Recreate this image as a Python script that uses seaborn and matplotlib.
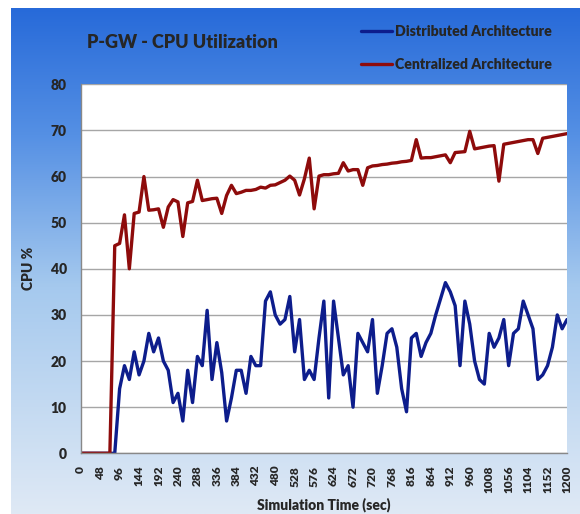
#! /usr/bin/env python3
'''
P-GW CPU utilization, distributed vs centralized architecture
'''
# imports
import matplotlib
matplotlib.use("Agg")
from matplotlib import rcParams
from matplotlib.colors import LinearSegmentedColormap
import matplotlib.pyplot as plt
import numpy as np
import pandas as pd
import seaborn as sns

# data (one sample every 12 sec, 0..1200)
time_sec = list(range(0, 1201, 12))
distributed = [0, 0, 0, 0, 0, 0, 0, 0,
               14, 19, 16, 22, 17, 20, 26, 22, 25, 20, 18, 11, 13,
               7, 18, 11, 21, 19, 31, 16, 24, 17.5, 7, 12, 18, 18, 13, 21, 19, 19, 33, 35, 30,
               28, 29, 34, 22, 29, 16, 18, 16, 25, 33, 12, 33, 25, 17, 19, 10, 26, 24, 22, 29,
               13, 19, 26, 27, 23, 14, 9, 25, 26, 21, 24, 26, 30, 33.5, 37, 35, 32, 19, 33, 28,
               20, 16, 15, 26, 23, 25, 29, 19, 26, 27, 33, 30, 27, 16, 17, 19, 23, 30, 27, 29]
centralized = [0, 0, 0, 0, 0, 0, 0,
               45, 45.5, 51.7, 40, 52, 52.3, 60, 52.7, 52.8, 53, 49, 53.4, 55, 54.5,
               47, 54.3, 54.6, 59.2, 54.8, 55, 55.2, 55.3, 52, 55.9, 58.1, 56.3, 56.6, 57, 57,
               57.2, 57.7, 57.5, 58.1, 58.2,
               58.7, 59.2, 60.1, 59.2, 56, 59.5, 64, 53, 60.1, 60.4, 60.4, 60.6, 60.7, 63, 61.2,
               61.5, 61.5, 58.1, 61.9, 62.3,
               62.4, 62.6, 62.7, 62.9, 63, 63.2, 63.3, 63.5, 68, 64, 64.1, 64.1, 64.3, 64.5, 64.7,
               63, 65.2, 65.3, 65.4, 69.8,
               66, 66.2, 66.4, 66.6, 66.7, 59, 67, 67.2, 67.4, 67.6, 67.8, 68, 68, 65, 68.3,
               68.5, 68.7, 68.9, 69.1, 69.3]
series_names = ["Distributed Architecture", "Centralized Architecture"]
x_ticks = list(range(0, 1201, 48))
y_ticks = list(range(0, 81, 10))

df = pd.DataFrame({
    "time": time_sec * 2,
    "cpu": distributed + centralized,
    "arch": [series_names[0]] * len(time_sec) + [series_names[1]] * len(time_sec),
})

# settings
sns.set_style("white")
rcParams['font.family'] = ['Lato', 'DejaVu Sans']
rcParams['font.weight'] = 'bold'

fig = plt.figure(figsize=(5.8, 5.14), dpi=100)
fig.patch.set_facecolor("white")

# blue gradient chart background
bg = fig.add_axes([11 / 580, 0, 1 - 11 / 580, 1 - 8 / 514], zorder=-5)
grad_cmap = LinearSegmentedColormap.from_list(
    "bg", [(0.0, "#276ad9"), (0.25, "#5590e4"), (0.55, "#a5c9ee"), (1.0, "#dfe9f5")])
bg.imshow(np.linspace(0, 1, 256).reshape(-1, 1), aspect="auto", cmap=grad_cmap,
          extent=[0, 1, 0, 1], origin="upper")
bg.set_axis_off()

ax = fig.add_axes([80.7 / 580, 1 - 453.3 / 514, (567 - 80.7) / 580, (453.3 - 84.3) / 514])
ax.set_facecolor("white")
sns.lineplot(data=df, x="time", y="cpu", hue="arch", palette=["#0d1d8c", "#8e0b0b"],
             linewidth=2.4, ax=ax)

ax.set_xlim(0, 1200)
ax.set_ylim(0, 80)
ax.set_xticks(x_ticks)
ax.set_xticklabels([str(t) for t in x_ticks], rotation=90, fontsize=8.6, fontweight='heavy')
ax.set_yticks(y_ticks)
ax.set_yticklabels([str(t) for t in y_ticks], fontsize=10, fontweight='heavy')
ax.tick_params(axis='y', length=4, color="#888888", pad=6)
ax.tick_params(axis='x', length=0, pad=9)
ax.grid(axis='y', color="#a6a6a6", linewidth=1.0)
ax.set_axisbelow(True)
for side in ['top', 'right']:
    ax.spines[side].set_visible(False)
for side in ['left', 'bottom']:
    ax.spines[side].set_color("#888888")
    ax.spines[side].set_linewidth(1.0)

ax.set_xlabel("Simulation Time (sec)", fontsize=10, fontweight='heavy', labelpad=3)
ax.set_ylabel("CPU %", fontsize=10, fontweight='heavy', labelpad=11)

fig.text(182 / 580, 1 - 43 / 514, "P-GW - CPU Utilization", fontsize=13, fontweight='heavy',
         ha='center', va='center')

handles, labels = ax.get_legend_handles_labels()
ax.legend(handles, labels, loc='upper left', bbox_to_anchor=(348 / 580, 1 - 12 / 514),
          bbox_transform=fig.transFigure, frameon=False,
          handlelength=2.2, handletextpad=0.25, labelspacing=1.45,
          prop={'weight': 'heavy', 'size': 10.2})

fig.savefig("out.png", dpi=100)
plt.close()
